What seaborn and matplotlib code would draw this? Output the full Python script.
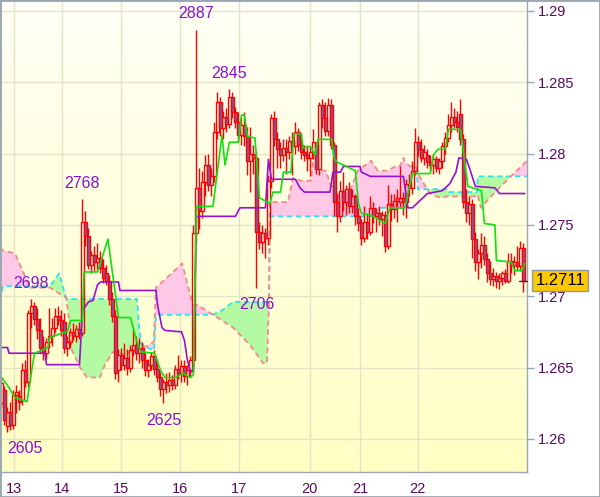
import numpy as np
import matplotlib
matplotlib.use("Agg")
import matplotlib.pyplot as plt
import matplotlib.transforms as mtransforms
from matplotlib.colors import LinearSegmentedColormap
from matplotlib.patches import Rectangle
import seaborn as sns

# hourly candles, prices in pips above 1.0000 (2887 -> 1.2887)
OPEN = [2625, 2634, 2609, 2619, 2610, 2631, 2630, 2627, 2648, 2640,
        2688, 2693, 2684, 2676, 2664, 2660, 2668, 2672, 2678, 2686,
        2683, 2682, 2664, 2668, 2675, 2672, 2677, 2674, 2752, 2742,
        2722, 2729, 2724, 2727, 2720, 2716, 2711, 2698, 2686, 2648,
        2659, 2652, 2657, 2650, 2662, 2666, 2660, 2664, 2655, 2648,
        2652, 2658, 2649, 2643, 2635, 2640, 2638, 2641, 2638, 2649,
        2646, 2651, 2644, 2648, 2655, 2744, 2776, 2760, 2780, 2792,
        2778, 2784, 2815, 2836, 2818, 2826, 2821, 2840, 2829, 2822,
        2813, 2820, 2812, 2795, 2800, 2797, 2745, 2738, 2744, 2741,
        2781, 2825, 2810, 2803, 2799, 2804, 2801, 2809, 2805, 2815,
        2806, 2801, 2799, 2797, 2801, 2806, 2789, 2834, 2825, 2816,
        2834, 2806, 2766, 2756, 2774, 2766, 2775, 2763, 2770, 2756,
        2751, 2741, 2752, 2745, 2762, 2756, 2758, 2754, 2757, 2735,
        2765, 2761, 2767, 2766, 2769, 2766, 2779, 2776, 2788, 2808,
        2803, 2797, 2799, 2794, 2792, 2796, 2790, 2795, 2805, 2811,
        2820, 2826, 2822, 2828, 2810, 2766, 2758, 2765, 2740, 2724,
        2730, 2736, 2726, 2716, 2712, 2714, 2711, 2713, 2716, 2711,
        2725, 2722, 2724, 2721, 2734]
HIGH = [2643, 2637, 2622, 2626, 2634, 2638, 2634, 2653, 2655, 2690,
        2698, 2696, 2692, 2685, 2672, 2671, 2692, 2685, 2692, 2693,
        2690, 2688, 2672, 2678, 2681, 2680, 2682, 2768, 2760, 2748,
        2732, 2735, 2737, 2732, 2726, 2722, 2715, 2703, 2690, 2663,
        2664, 2667, 2663, 2666, 2676, 2672, 2671, 2668, 2660, 2656,
        2661, 2662, 2656, 2647, 2642, 2646, 2647, 2645, 2652, 2659,
        2655, 2655, 2652, 2658, 2750, 2887, 2790, 2788, 2799, 2800,
        2790, 2822, 2843, 2840, 2830, 2832, 2845, 2843, 2833, 2829,
        2826, 2829, 2819, 2819, 2806, 2802, 2752, 2750, 2748, 2785,
        2828, 2830, 2815, 2808, 2810, 2810, 2812, 2815, 2822, 2818,
        2810, 2806, 2806, 2805, 2817, 2808, 2836, 2838, 2836, 2839,
        2838, 2808, 2772, 2781, 2787, 2778, 2780, 2775, 2772, 2762,
        2754, 2763, 2758, 2770, 2766, 2762, 2763, 2760, 2760, 2778,
        2772, 2772, 2775, 2791, 2773, 2782, 2786, 2795, 2818, 2812,
        2810, 2806, 2803, 2799, 2800, 2798, 2797, 2808, 2815, 2828,
        2836, 2832, 2830, 2838, 2814, 2775, 2770, 2768, 2745, 2733,
        2744, 2742, 2730, 2725, 2720, 2717, 2716, 2718, 2719, 2730,
        2730, 2728, 2735, 2739, 2737]
LOW = [2622, 2610, 2605, 2606, 2607, 2618, 2620, 2624, 2636, 2636,
       2678, 2680, 2670, 2660, 2655, 2656, 2664, 2665, 2675, 2680,
       2672, 2660, 2658, 2664, 2669, 2668, 2670, 2672, 2735, 2719,
       2716, 2718, 2718, 2716, 2709, 2708, 2694, 2682, 2642, 2640,
       2648, 2648, 2645, 2647, 2658, 2655, 2653, 2650, 2644, 2643,
       2648, 2645, 2640, 2630, 2625, 2632, 2633, 2634, 2635, 2642,
       2640, 2640, 2638, 2643, 2650, 2737, 2747, 2755, 2770, 2774,
       2770, 2780, 2810, 2812, 2810, 2815, 2818, 2825, 2818, 2808,
       2806, 2805, 2785, 2773, 2786, 2706, 2733, 2730, 2727, 2736,
       2776, 2805, 2790, 2790, 2795, 2786, 2796, 2785, 2800, 2802,
       2796, 2795, 2788, 2784, 2796, 2786, 2785, 2818, 2812, 2812,
       2803, 2756, 2745, 2752, 2760, 2757, 2758, 2758, 2750, 2746,
       2736, 2738, 2740, 2743, 2751, 2745, 2750, 2742, 2731, 2733,
       2753, 2755, 2752, 2762, 2757, 2755, 2770, 2772, 2785, 2798,
       2794, 2792, 2790, 2788, 2786, 2787, 2786, 2790, 2800, 2808,
       2815, 2818, 2815, 2806, 2762, 2752, 2750, 2727, 2718, 2712,
       2720, 2722, 2710, 2708, 2707, 2706, 2705, 2708, 2709, 2709,
       2716, 2715, 2718, 2718, 2703]
CLOSE = [2639, 2613, 2619, 2610, 2631, 2633, 2626, 2648, 2640, 2688,
         2693, 2684, 2676, 2664, 2660, 2668, 2672, 2678, 2686, 2683,
         2676, 2664, 2668, 2675, 2672, 2677, 2674, 2752, 2742, 2722,
         2729, 2724, 2727, 2720, 2713, 2711, 2698, 2686, 2646, 2659,
         2652, 2657, 2650, 2662, 2666, 2660, 2664, 2655, 2648, 2652,
         2658, 2649, 2643, 2635, 2640, 2638, 2641, 2638, 2649, 2646,
         2651, 2644, 2648, 2655, 2744, 2776, 2760, 2780, 2792, 2778,
         2784, 2815, 2836, 2818, 2826, 2821, 2840, 2829, 2822, 2813,
         2820, 2812, 2795, 2800, 2797, 2745, 2738, 2744, 2741, 2781,
         2825, 2810, 2803, 2799, 2804, 2801, 2809, 2805, 2815, 2806,
         2801, 2799, 2797, 2801, 2808, 2789, 2834, 2825, 2816, 2834,
         2806, 2766, 2756, 2774, 2766, 2775, 2763, 2770, 2756, 2751,
         2741, 2752, 2745, 2762, 2756, 2758, 2754, 2757, 2735, 2765,
         2761, 2767, 2769, 2769, 2766, 2779, 2776, 2788, 2808, 2803,
         2797, 2801, 2794, 2792, 2796, 2790, 2795, 2805, 2811, 2820,
         2826, 2822, 2819, 2810, 2766, 2758, 2765, 2740, 2724, 2730,
         2736, 2726, 2716, 2712, 2714, 2711, 2713, 2716, 2711, 2725,
         2722, 2724, 2721, 2734, 2711]

# tenkan (green) and kijun (purple), vertices at bar index
TENKAN_X = [0, 1.8, 4.5, 8.5, 10, 11, 15.5, 16, 20, 22, 23, 27, 27.5, 32, 35.5,
            39, 43, 45, 46.5, 51, 53, 54.5, 58, 60.5, 63, 64, 65, 70.5, 73.5,
            74.5, 76, 79, 80, 81, 82, 84.5, 86, 89.5, 90.5, 93, 94, 96.5, 97.5,
            100, 100.5, 103, 104.5, 105.5, 110, 111, 112, 118, 119, 120, 123,
            128, 129.5, 134.5, 136, 137, 143, 144, 145.5, 148, 149, 153, 155.5,
            160, 161, 164.5, 165, 170, 171, 173.5, 174.5]
TENKAN = [2643, 2638, 2629, 2626, 2647, 2660, 2664, 2671, 2674, 2675, 2683, 2683,
          2717, 2717, 2740, 2685, 2685, 2669, 2661, 2660, 2648, 2643, 2643, 2646,
          2643, 2645, 2763, 2763, 2813, 2792, 2808, 2808, 2827, 2827, 2812, 2811,
          2769, 2765, 2773, 2773, 2787, 2787, 2814, 2814, 2804, 2805, 2799, 2810,
          2810, 2796, 2794, 2788, 2765, 2758, 2757, 2751, 2762, 2762, 2777, 2786,
          2786, 2799, 2803, 2803, 2817, 2817, 2777, 2774, 2751, 2750, 2725, 2724,
          2718, 2718, 2723]
KIJUN_X = [0, 2, 2.5, 14.5, 15, 26, 27, 29, 30.5, 32, 33, 39, 39.5, 51.5, 52,
           53.5, 54.5, 60, 61, 62, 63, 64, 65, 78, 79.5, 88, 89, 90, 98, 99.5,
           101, 109.5, 110.5, 113, 114, 119.5, 120, 123, 134, 135.5, 137, 139.5,
           142, 147, 149.5, 151.5, 152.5, 155, 156, 158, 164.5, 166, 174.5]
KIJUN = [2664, 2664, 2660, 2660, 2652, 2652, 2690, 2696, 2697, 2708, 2710, 2710,
         2704, 2704, 2694, 2678, 2676, 2675, 2669, 2655, 2647, 2647, 2756, 2756,
         2762, 2762, 2796, 2782, 2782, 2776, 2773, 2773, 2787, 2787, 2791, 2791,
         2787, 2784, 2784, 2762, 2762, 2767, 2772, 2774, 2779, 2787, 2797, 2796,
         2790, 2777, 2776, 2772, 2772]

# cloud: senkou span A (cyan) and span B (salmon)
CLOUD_X = [-0.5, 0.5, 4.5, 9.5, 16.2, 19.2, 21.5, 22.2, 23.5, 26.2, 28.5, 32.8,
           34.5, 37.2, 41.8, 43.8, 45.2, 45.8, 46.5, 48.5, 50.8, 51.5, 56.2,
           60.2, 63.8, 65.2, 70.5, 73.5, 77.2, 82.8, 87.2, 88.5, 89.2, 89.5,
           95.5, 97.2, 99.8, 103.2, 103.8, 105.5, 108.2, 109.5, 112.2, 116.2,
           118.8, 123.2, 125.5, 126.8, 128.8, 131.2, 132.8, 134.0, 134.5, 136.2,
           137.5, 138.5, 138.8, 142.8, 146.2, 148.5, 148.8, 158.5, 158.8, 159.8,
           163.2, 166.5, 169.8, 175.2]
SPAN_A = [2697, 2707, 2707, 2707, 2707, 2716, 2699, 2698, 2698, 2698, 2698, 2698,
          2698, 2698, 2698, 2698, 2698, 2680, 2667, 2664, 2662, 2687, 2687,
          2687, 2687, 2687, 2687, 2690, 2696, 2696, 2696, 2696, 2697, 2756,
          2756, 2756, 2756, 2756, 2756, 2756, 2756, 2756, 2756, 2756,
          2756, 2756, 2756, 2762, 2762, 2762, 2762, 2762, 2762, 2775,
          2792, 2790, 2775, 2775, 2775, 2775, 2773, 2773, 2784, 2784,
          2784, 2784, 2784, 2784]
SPAN_B = [2734, 2732, 2730, 2706, 2706, 2702, 2699, 2690, 2662, 2650, 2643, 2643,
          2652, 2661, 2659, 2664, 2663, 2663, 2664, 2665, 2668, 2706, 2715,
          2723, 2694, 2694, 2687, 2683, 2678, 2666, 2653, 2653, 2697, 2766,
          2766, 2783, 2781, 2781, 2794, 2788, 2788, 2779, 2771, 2774,
          2788, 2795, 2788, 2788, 2788, 2791, 2791, 2797, 2794, 2791,
          2791, 2790, 2786, 2772, 2769, 2770, 2770, 2770, 2771, 2762,
          2770, 2777, 2784, 2795]

# swing extremes that carry a number
EXT_IDX = [2, 10, 27, 54, 65, 76, 85]
EXT_KIND = ["L", "H", "H", "L", "H", "H", "L"]

DAY_POS = [4.2, 20.2, 39.8, 59.5, 79.2, 102.8, 119.5, 138.8]
DAY_LABELS = ["13", "14", "15", "16", "17", "20", "21", "22"]
PRICE_TICKS = [1.26, 1.265, 1.27, 1.275, 1.28, 1.285, 1.29]


def to_price(pips):
    return 1.0 + np.asarray(pips, dtype=float) / 10000.0


sns.set_style("white")
plt.rcParams["font.family"] = ["Liberation Sans", "DejaVu Sans"]

frame = "#9AA6B0"
axis_text = "#5C0A5C"

fig = plt.figure(figsize=(6.0, 4.97), dpi=100, facecolor="white")
ax = fig.add_axes([0.0, 25 / 497, 527 / 600, 472 / 497])

# pale yellow gradient background
grad = np.linspace(0, 1, 256).reshape(-1, 1)
bg = LinearSegmentedColormap.from_list("bg", ["#FFFFC4", "#FFFFF6"])
ax.imshow(grad, extent=[0, 1, 0, 1], transform=ax.transAxes, cmap=bg,
          aspect="auto", origin="lower", zorder=0)

# cloud
cx = np.array(CLOUD_X)
a = to_price(SPAN_A)
b = to_price(SPAN_B)
ax.fill_between(cx, a, b, where=a >= b, interpolate=True, color="#B4FAA2", lw=0, zorder=2)
ax.fill_between(cx, a, b, where=a < b, interpolate=True, color="#FFC8E6", lw=0, zorder=2)
ax.plot(cx, a, color="#30E0F0", lw=1.3, ls=(0, (3, 2)), zorder=3)
ax.plot(cx, b, color="#F28A8A", lw=1.3, ls=(0, (3, 2)), zorder=3)

# candles
o, h, l, c = to_price(OPEN), to_price(HIGH), to_price(LOW), to_price(CLOSE)
x = np.arange(len(OPEN))
up = c >= o
top = np.maximum(o, c)
bot = np.minimum(o, c)
body = np.maximum(top - bot, 0.00004)
ax.vlines(x, top, h, color="#FF0000", lw=1, zorder=4)
ax.vlines(x, l, bot, color="#FF0000", lw=1, zorder=4)
ax.bar(x[up], body[up], bottom=bot[up], width=0.8, facecolor="none",
       edgecolor="#FF0000", linewidth=1, zorder=4)
ax.bar(x[~up], body[~up], bottom=bot[~up], width=0.8, facecolor="#7D5BA6",
       edgecolor="#FF0000", linewidth=1, zorder=4)

# tenkan / kijun
sns.lineplot(x=KIJUN_X, y=to_price(KIJUN), color="#9A10D0", lw=1.2, ax=ax, zorder=5)
sns.lineplot(x=TENKAN_X, y=to_price(TENKAN), color="#10E010", lw=1.2, ax=ax, zorder=5)

# extreme labels
for i, kind in zip(EXT_IDX, EXT_KIND):
    v = HIGH[i] if kind == "H" else LOW[i]
    dy = 6 if kind == "H" else -7
    ax.annotate(str(v), xy=(x[i], to_price(v)), xytext=(0, dy),
                textcoords="offset points", ha="left" if i < 5 else "center",
                va="bottom" if kind == "H" else "top",
                fontsize=11.5, color="#8A10D0", zorder=7)

ax.set_xlim(-0.5, 175.2)
ax.set_ylim(1.257672, 1.290771)

ax.set_xticks(DAY_POS)
ax.set_xticklabels(DAY_LABELS)
ax.set_yticks(PRICE_TICKS)
ax.set_yticklabels([f"{p:g}" for p in PRICE_TICKS])
ax.yaxis.tick_right()
ax.tick_params(axis="both", direction="out", length=5, width=1, color=frame,
               labelcolor=axis_text, labelsize=10.5)
ax.tick_params(axis="y", pad=3)
ax.tick_params(axis="x", pad=2)
ax.grid(True, color="#E4E4C6", lw=1)
ax.set_axisbelow(True)
for sp in ax.spines.values():
    sp.set_color(frame)
    sp.set_linewidth(1)

# last price tag
last = c[-1]
trans = mtransforms.blended_transform_factory(ax.transAxes, ax.transData)
ax.plot([0.985, 1.0], [last, last], transform=trans, color=axis_text, lw=1,
        clip_on=False, zorder=6)
ax.annotate(f"{last:.4f}", xy=(1.0, last), xycoords=trans, xytext=(6, 0),
            textcoords="offset points", ha="left", va="center", fontsize=12,
            color="black", annotation_clip=False, zorder=8,
            bbox=dict(boxstyle="square,pad=0.18", fc="#FFC800", ec="#8A9AA8", lw=1))

fig.patches.append(Rectangle((0, 0), 1, 1, transform=fig.transFigure, fill=False,
                             edgecolor=frame, lw=2))

fig.savefig("out.png", dpi=100)
